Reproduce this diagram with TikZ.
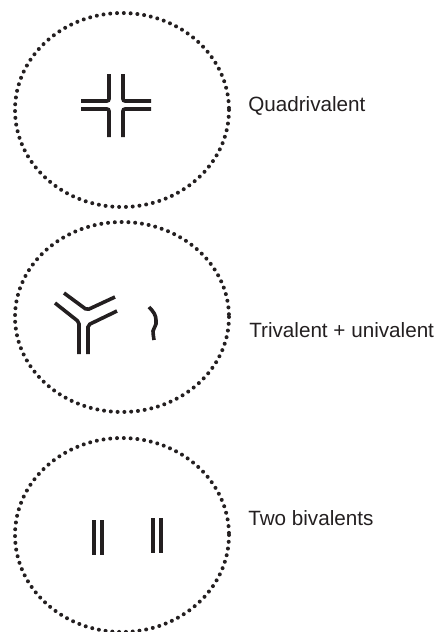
\documentclass[tikz,border=0pt]{standalone}
\usepackage{fontspec}
\setmainfont{Liberation Sans}
\usetikzlibrary{positioning,calc}
\definecolor{ink}{HTML}{231F20}

\begin{document}
\begin{tikzpicture}[
    x=0.75pt, y=-0.75pt,
    cell/.style={
        draw=ink, line width=3pt,
        dash pattern=on 0pt off 5.1pt, line cap=round,
    },
    chrom/.style={
        draw=ink, line width=2.7pt,
        rounded corners=1.5pt,
    },
    caption/.style={
        font=\fontsize{15.5}{18}\selectfont, text=ink,
        anchor=base west, inner sep=0pt,
    },
]

% Page frame
\useasboundingbox (0,0) rectangle (437,632);

% =============================================================
% TOP: quadrivalent
% =============================================================
\draw[cell] (122,110) ellipse [x radius=107, y radius=97];

\draw[chrom] (109,74) -- (109,101) -- (81,101);
\draw[chrom] (123,74) -- (123,101) -- (151,101);
\draw[chrom] (81,109) -- (109,109) -- (109,137);
\draw[chrom] (151,109) -- (123,109) -- (123,137);

\node[caption] (quad) at (248,111) {Quadrivalent};

% =============================================================
% MIDDLE: trivalent + univalent
% =============================================================
\draw[cell] (122,317) ellipse [x radius=107, y radius=95];

\draw[chrom] (64,293) -- (87,310) -- (115,297);
\draw[chrom] (55,303) -- (79,322) -- (79,354);
\draw[chrom] (117,311) -- (88,325) -- (88,354);

% univalent
\draw[chrom] (149,307) to[out=-45,in=90] (156,322)
    to[out=-90,in=90] (153,333) -- (154,340);

\node[caption] (tri) at (249,337) {Trivalent + univalent};

% =============================================================
% BOTTOM: two bivalents
% =============================================================
\draw[cell] (122,535) ellipse [x radius=107, y radius=97];

\draw[chrom] (94,520) -- (94,555);
\draw[chrom] (102,520) -- (102,555);
\draw[chrom] (153,518) -- (153,553);
\draw[chrom] (161,518) -- (161,553);

\node[caption] (biv) at (248,525) {Two bivalents};

\end{tikzpicture}
\end{document}
